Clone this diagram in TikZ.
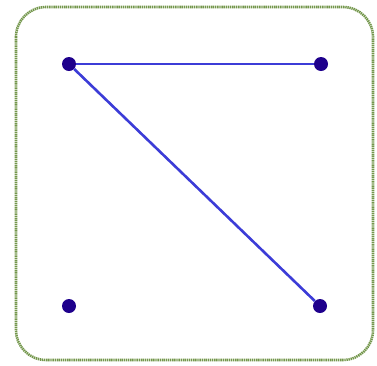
\documentclass[tikz,border=0pt]{standalone}
\definecolor{frameolive}{RGB}{115,150,75}
\definecolor{edgeblue}{RGB}{60,60,215}
\definecolor{vertexnavy}{RGB}{30,0,140}
\begin{document}
\begin{tikzpicture}[x=1pt,y=-1pt, vertex/.style={circle,fill=vertexnavy,inner sep=0pt,minimum size=14pt}]
  \useasboundingbox (0,0) rectangle (377,365);
  % Frame
  \draw[frameolive,line width=2.6pt,dash pattern=on 1.4pt off 0.7pt,rounded corners=30pt] (16,7) rectangle (373,360);
  % Vertices
  \node[vertex] (tl) at (69,64) {};
  \node[vertex] (tr) at (321,64) {};
  \node[vertex] (bl) at (69,306) {};
  \node[vertex] (br) at (320,306) {};
  % Edges
  \draw[edgeblue,line width=2.6pt] (tl) -- (tr);
  \draw[edgeblue,line width=2.6pt] (tl) -- (br);
\end{tikzpicture}
\end{document}
